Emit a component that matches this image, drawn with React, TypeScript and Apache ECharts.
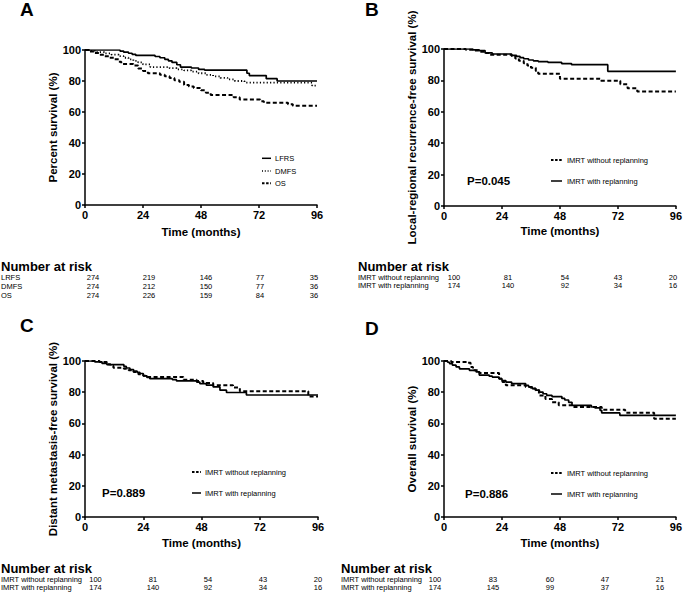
import React, { useEffect, useRef } from "react";
import * as echarts from "echarts";

const FONT = '"Liberation Sans", Arial, Helvetica, sans-serif';

// ---------- Panel A (all patients) ----------
const lfrsT = [0, 14.5, 16, 18, 19.5, 21, 29, 31, 33, 34.5, 36, 38, 39.5, 44, 47, 49.5, 67, 68, 75, 79.5, 96];
const lfrsS = [100, 99.3, 98.6, 97.9, 97.2, 96.5, 95.8, 95, 94, 93, 92, 90.5, 89, 88.4, 87.5, 87, 85, 83.5, 81.5, 80, 80];
const dmfsT = [0, 2, 5, 8, 11, 14, 16, 18, 20, 22, 24, 27, 35, 38, 41, 44, 47, 50, 53, 56, 59, 62, 66, 94, 96];
const dmfsS = [100, 99.4, 98.6, 97.8, 97, 96, 95, 94, 93, 92, 90.7, 89, 88.3, 87.5, 86.8, 86, 85, 84, 83, 82, 81, 80, 79, 77, 77];
const osT = [0, 2, 4, 6, 8, 10, 12, 14, 15, 20, 22, 24, 26, 31, 33, 35, 37, 39, 41, 43, 45, 48, 50, 52, 61.5, 64, 72.5, 74, 84, 86, 96];
const osS = [100, 99, 98, 97, 96, 95, 94, 92.5, 91, 90, 88, 86.5, 85, 84, 83, 82, 80.5, 79.5, 77.5, 76.5, 75.5, 74, 72.5, 71, 69.5, 68, 67, 66, 65, 64, 64];

// ---------- Panel B (local-regional recurrence-free survival) ----------
const bWithoutT = [0, 9, 12, 15, 17, 18.7, 28, 29.5, 31, 33, 34.5, 36, 38, 39, 48, 65, 73, 76, 80, 96];
const bWithoutS = [100, 99.5, 99, 98.3, 97.5, 96.3, 95.5, 94, 92.5, 91, 89.5, 88, 86, 84.3, 81, 79.8, 77.5, 75, 73, 73];
const bWithT = [0, 12, 14.6, 17, 20, 28, 30, 31.5, 33, 35, 37, 39, 43, 48.7, 52.8, 67.8, 96];
const bWithS = [100, 99.5, 99, 97.5, 96.8, 96, 95.3, 94.5, 93.8, 93, 92.5, 92, 91.5, 90.7, 90, 85.8, 85.8];

// ---------- Panel C (distant metastasis-free survival) ----------
const cWithoutT = [0, 6, 9, 10.5, 11.7, 16, 18, 20, 22, 24, 26, 40.5, 46, 48.7, 52.8, 61, 63.8, 92, 96];
const cWithoutS = [100, 99.4, 97.9, 97, 95.7, 95, 94, 93, 91.5, 90.5, 89.8, 88, 87.2, 85.9, 84.5, 83, 80.6, 77.3, 77.3];
const cWithT = [0, 4, 7, 9, 16, 17, 18.5, 20, 21.5, 22.6, 24, 25.5, 26.7, 36, 37.7, 46, 47.3, 50, 52.8, 55.6, 58.3, 66.5, 96];
const cWithS = [100, 99.5, 98.5, 97.7, 96.6, 95.5, 94.5, 93.5, 92.8, 92, 90.5, 89.5, 88.7, 88, 87.2, 86.5, 85.5, 84.5, 83.4, 81.3, 79.8, 78.2, 78.2];

// ---------- Panel D (overall survival) ----------
const dWithoutT = [0, 3, 9.5, 11, 12, 14.6, 22.8, 24.2, 25.6, 33.8, 36, 37.9, 39.3, 42, 44.7, 47.5, 53, 65.3, 75, 87, 96];
const dWithoutS = [100, 99.4, 98.8, 96.2, 94, 92.3, 88.7, 86.5, 84.4, 83.3, 82.3, 81.2, 77.9, 75.6, 73.5, 71.6, 70.5, 68.8, 66.9, 63, 63];
const dWithT = [0, 1.5, 2.3, 3.5, 5, 6.4, 10.5, 13.3, 14.6, 18.7, 20, 22.8, 24, 25.6, 28, 33.8, 35, 36.5, 38, 39.5, 41, 42.5, 44.7, 48.8, 50, 51.6, 53, 61, 62.5, 64.6, 65.3, 72.8, 96];
const dWithS = [100, 99.2, 98.3, 97.3, 96.2, 95, 94, 93, 91, 90.3, 89.7, 88.7, 87.5, 86.5, 85.5, 84.4, 83.5, 82.3, 81.3, 80.1, 79, 78, 77.2, 76, 75, 73.5, 71.6, 70.5, 69.9, 68.4, 66.7, 65.2, 65.2];

// ---------- Numbers at risk ----------
const riskALabels = ["LRFS", "DMFS", "OS"];
const riskALrfs = [274, 219, 146, 77, 35];
const riskADmfs = [274, 212, 150, 77, 36];
const riskAOs = [274, 226, 159, 84, 36];
const groupLabels = ["IMRT without replanning", "IMRT with replanning"];
const riskBWithout = [100, 81, 54, 43, 20];
const riskBWith = [174, 140, 92, 34, 16];
const riskCWithout = [100, 81, 54, 43, 20];
const riskCWith = [174, 140, 92, 34, 16];
const riskDWithout = [100, 83, 60, 47, 21];
const riskDWith = [174, 145, 99, 37, 16];

const pValues = ["P=0.045", "P=0.889", "P=0.886"];
const panelLetters = ["A", "B", "C", "D"];
const yTitles = [
  "Percent survival (%)",
  "Local-regional recurrence-free survival (%)",
  "Distant metastasis-free survival (%)",
  "Overall survival (%)",
];
const xTitle = "Time (months)";

const zip = (t: number[], s: number[]) => t.map((v, i) => [v, s[i]]);

const SOLID = { color: "#000", width: 1.7, type: "solid" as any };
const DASHED = { color: "#000", width: 2, type: [4, 2.5] as any };
const DOTTED = { color: "#000", width: 1.8, type: [1.2, 2.2] as any };

function txt(x: number, y: number, text: string, size: number, bold = false, align = "left") {
  return {
    type: "text",
    x,
    y,
    silent: true,
    style: {
      text,
      fill: "#000",
      font: `${bold ? "bold " : ""}${size}px ${FONT}`,
      textAlign: align,
      textVerticalAlign: "middle",
    },
  };
}

function legLine(x1: number, x2: number, y: number, kind: string) {
  const dash = kind === "dashed" ? [2.5, 1.6] : kind === "dotted" ? [1, 1.8] : null;
  return {
    type: "line",
    silent: true,
    shape: { x1, y1: y, x2, y2: y },
    style: { stroke: "#000", lineWidth: kind === "dashed" ? 2 : 1.5, lineDash: dash },
  };
}

const RF = 7.5; // risk table font size

function riskRow(xs: number[], y: number, vals: number[]) {
  return vals.map((v, i) => txt(xs[i], y, String(v), RF, false, "center"));
}

export default function App() {
  const ref = useRef<HTMLDivElement>(null);
  useEffect(() => {
    if (!ref.current) return;
    const chart = echarts.init(ref.current, undefined, { renderer: "svg" });

    const grids = [
      { left: 85, top: 50, width: 232, height: 155 },
      { left: 444, top: 49, width: 235, height: 157 },
      { left: 85, top: 361, width: 233, height: 156 },
      { left: 444, top: 361, width: 234, height: 156 },
    ];
    const yGaps = [21, 25, 20, 24];
    const xGaps = [21, 19, 20, 20];

    const axisLine = { show: true, lineStyle: { color: "#000", width: 1.5 } };
    const axisTick = { show: true, length: 3, inside: false, lineStyle: { color: "#000", width: 1.5 } };
    const axisLabel = { color: "#000", fontWeight: "bold", fontSize: 11, fontFamily: FONT, margin: 4 };

    const xAxis = grids.map((_, i) => ({
      gridIndex: i,
      type: "value",
      min: 0,
      max: 96,
      interval: 24,
      axisLine,
      axisTick,
      axisLabel,
      splitLine: { show: false },
      name: xTitle,
      nameLocation: "middle",
      nameGap: xGaps[i],
      nameTextStyle: { color: "#000", fontWeight: "bold", fontSize: 11.5, fontFamily: FONT },
    }));
    const yAxis = grids.map((_, i) => ({
      gridIndex: i,
      type: "value",
      min: 0,
      max: 100,
      interval: 20,
      axisLine,
      axisTick,
      axisLabel,
      splitLine: { show: false },
      name: yTitles[i],
      nameLocation: "middle",
      nameGap: yGaps[i],
      nameTextStyle: { color: "#000", fontWeight: "bold", fontSize: 11.5, fontFamily: FONT },
    }));

    const mk = (name: string, t: number[], s: number[], idx: number, ls: any) => ({
      type: "line",
      name,
      step: "end",
      xAxisIndex: idx,
      yAxisIndex: idx,
      data: zip(t, s),
      symbol: "none",
      lineStyle: ls,
      silent: true,
    });

    const series = [
      mk("LFRS", lfrsT, lfrsS, 0, SOLID),
      mk("DMFS", dmfsT, dmfsS, 0, DOTTED),
      mk("OS", osT, osS, 0, DASHED),
      mk(groupLabels[0], bWithoutT, bWithoutS, 1, DASHED),
      mk(groupLabels[1], bWithT, bWithS, 1, SOLID),
      mk(groupLabels[0], cWithoutT, cWithoutS, 2, DASHED),
      mk(groupLabels[1], cWithT, cWithS, 2, SOLID),
      mk(groupLabels[0], dWithoutT, dWithoutS, 3, DASHED),
      mk(groupLabels[1], dWithT, dWithS, 3, SOLID),
    ];

    const colsA = [93, 149, 206, 260, 314];
    const colsB = [454, 508, 565, 618, 673];
    const colsC = [95.5, 153, 208, 263, 318];
    const colsD = [435, 493, 550, 605, 660];

    const graphic: any[] = [
      // panel letters
      txt(20, 9, panelLetters[0], 19, true),
      txt(365, 9, panelLetters[1], 19, true),
      txt(20, 325, panelLetters[2], 19, true),
      txt(365, 328, panelLetters[3], 19, true),
      // legends A
      legLine(262, 271, 158.3, "solid"),
      txt(275, 158.3, "LFRS", 7.5),
      legLine(262, 271, 171, "dotted"),
      txt(275, 171, "DMFS", 7.5),
      legLine(262, 271, 183.3, "dashed"),
      txt(275, 183.3, "OS", 7.5),
      // legends B
      legLine(551, 562, 160, "dashed"),
      txt(567, 160, groupLabels[0], 7.5),
      legLine(551, 562, 181, "solid"),
      txt(567, 181, groupLabels[1], 7.5),
      txt(467, 181, pValues[0], 11.5, true),
      // legends C
      legLine(192, 201, 472, "dashed"),
      txt(205, 472, groupLabels[0], 7.5),
      legLine(192, 201, 493, "solid"),
      txt(205, 493, groupLabels[1], 7.5),
      txt(102, 493, pValues[1], 11.5, true),
      // legends D
      legLine(551, 562, 473, "dashed"),
      txt(567, 473, groupLabels[0], 7.5),
      legLine(551, 562, 494, "solid"),
      txt(567, 494, groupLabels[1], 7.5),
      txt(465, 494, pValues[2], 11.5, true),
      // risk table A
      txt(1, 266, "Number at risk", 13, true),
      txt(1, 277.5, riskALabels[0], RF),
      txt(1, 286.5, riskALabels[1], RF),
      txt(1, 295.5, riskALabels[2], RF),
      ...riskRow(colsA, 277.5, riskALrfs),
      ...riskRow(colsA, 286.5, riskADmfs),
      ...riskRow(colsA, 295.5, riskAOs),
      // risk table B
      txt(358, 266, "Number at risk", 13, true),
      txt(358, 277.5, groupLabels[0], RF),
      txt(358, 285.5, groupLabels[1], RF),
      ...riskRow(colsB, 277.5, riskBWithout),
      ...riskRow(colsB, 285.5, riskBWith),
      // risk table C
      txt(1, 568, "Number at risk", 13, true),
      txt(1, 579.5, groupLabels[0], RF),
      txt(1, 587.5, groupLabels[1], RF),
      ...riskRow(colsC, 579.5, riskCWithout),
      ...riskRow(colsC, 587.5, riskCWith),
      // risk table D
      txt(341, 568, "Number at risk", 13, true),
      txt(341, 579.5, groupLabels[0], RF),
      txt(341, 587.5, groupLabels[1], RF),
      ...riskRow(colsD, 579.5, riskDWithout),
      ...riskRow(colsD, 587.5, riskDWith),
    ];

    chart.setOption({
      animation: false,
      backgroundColor: "#fff",
      textStyle: { fontFamily: FONT },
      grid: grids.map((g) => ({ ...g, containLabel: false })),
      xAxis,
      yAxis,
      series,
      graphic,
    });
    return () => chart.dispose();
  }, []);
  return (
    <div
      ref={ref}
      style={{ position: "fixed", left: 0, top: 0, width: 685, height: 604, background: "#fff" }}
    />
  );
}
